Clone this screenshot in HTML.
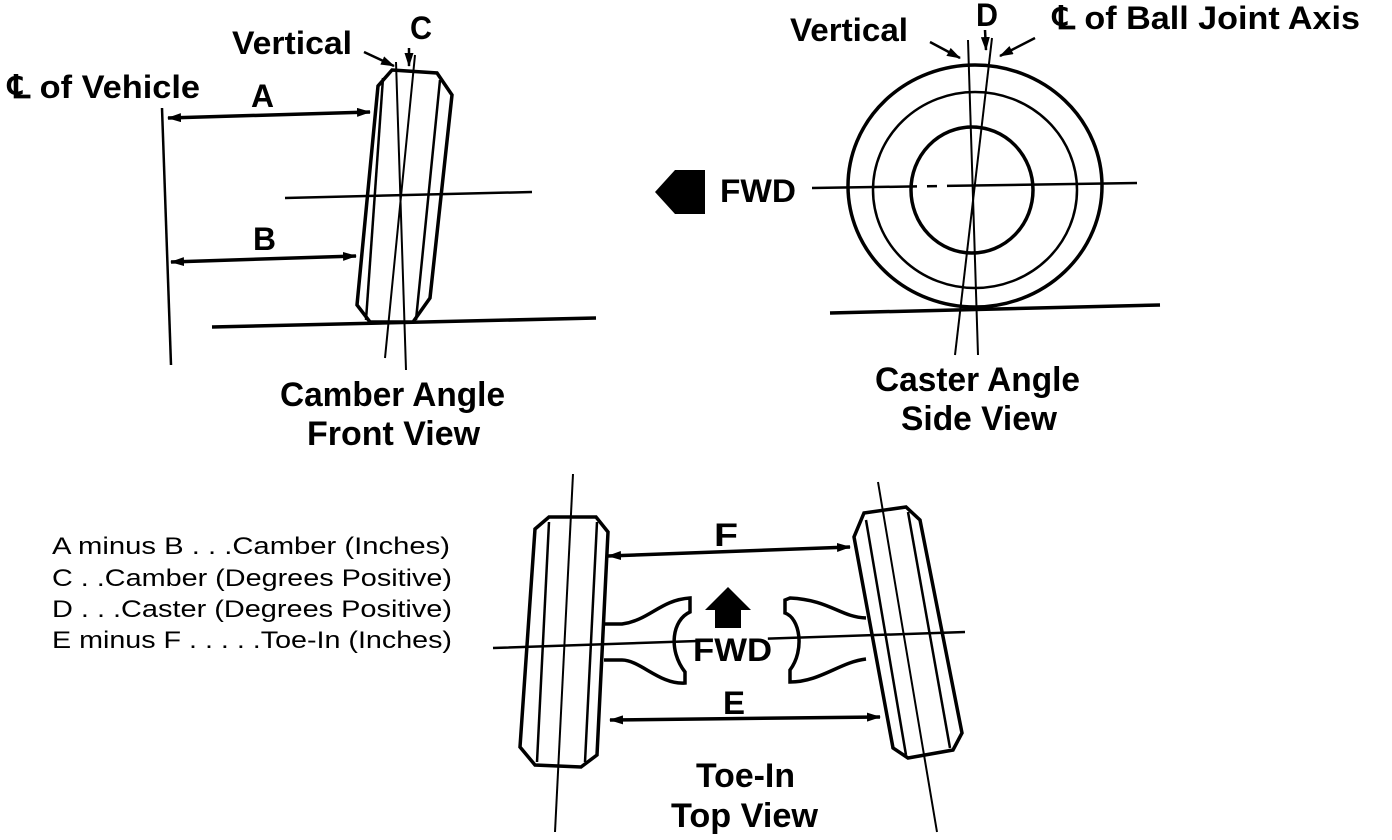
<!DOCTYPE html>
<html><head><style>
html,body{margin:0;padding:0;background:#fff}
svg{display:block}
.b{font-family:"Liberation Sans",sans-serif;font-weight:bold;fill:#000}
.r{font-family:"Liberation Sans",sans-serif;fill:#000;font-size:24px}
</style></head><body>
<svg width="1392" height="840" viewBox="0 0 1392 840" xmlns="http://www.w3.org/2000/svg">
<defs>
<marker id="ah" markerWidth="14" markerHeight="9" refX="13" refY="4.5" orient="auto" markerUnits="userSpaceOnUse">
<path d="M0,0 L14,4.5 L0,9 Z" fill="#000"/></marker>
<marker id="at" markerWidth="14" markerHeight="9" refX="1" refY="4.5" orient="auto" markerUnits="userSpaceOnUse">
<path d="M14,0 L0,4.5 L14,9 Z" fill="#000"/></marker>
</defs>
<g stroke="#000" fill="none">
<line x1="162" y1="108" x2="171" y2="365" stroke-width="2.5"/>
<line x1="168" y1="118" x2="370" y2="112" stroke-width="3.5" marker-start="url(#at)" marker-end="url(#ah)"/>
<line x1="171" y1="262" x2="356" y2="256" stroke-width="3.5" marker-start="url(#at)" marker-end="url(#ah)"/>
<line x1="285" y1="198" x2="532" y2="192" stroke-width="2.5"/>
<line x1="212" y1="327" x2="596" y2="318" stroke-width="3.5"/>
<path d="M392,70 L437,73 L452,95 L430,298 L413,322 L370,322 L357,305 L378,86 Z" stroke-width="3.5"/>
<line x1="383" y1="78" x2="366" y2="320" stroke-width="2.5"/>
<line x1="440" y1="80" x2="416" y2="320" stroke-width="2.5"/>
<line x1="396" y1="62" x2="406" y2="370" stroke-width="2"/>
<line x1="415" y1="55" x2="385" y2="358" stroke-width="2"/>
<line x1="364" y1="52" x2="394" y2="66" stroke-width="2.5" marker-end="url(#ah)"/>
<line x1="409" y1="48" x2="409" y2="66" stroke-width="2.5" marker-end="url(#ah)"/>
<ellipse cx="975" cy="186" rx="127" ry="121" stroke-width="3.5"/>
<ellipse cx="975" cy="190" rx="102" ry="98" stroke-width="2.5"/>
<ellipse cx="972" cy="190" rx="61" ry="63" stroke-width="3.5"/>
<line x1="812" y1="188" x2="1137" y2="183" stroke-width="2.5" stroke-dasharray="105,10,10,10,300"/>
<line x1="830" y1="313" x2="1160" y2="305" stroke-width="3.5"/>
<line x1="968" y1="40" x2="978" y2="355" stroke-width="2"/>
<line x1="992" y1="38" x2="955" y2="355" stroke-width="2"/>
<line x1="930" y1="42" x2="960" y2="58" stroke-width="2.5" marker-end="url(#ah)"/>
<line x1="1035" y1="38" x2="1000" y2="56" stroke-width="2.5" marker-end="url(#ah)"/>
<line x1="985" y1="30" x2="986" y2="50" stroke-width="2.5" marker-end="url(#ah)"/>
<path d="M549,517 L596,517 L608,532 L597,755 L581,767 L535,765 L520,747 L535,529 Z" stroke-width="3.5"/>
<line x1="549" y1="522" x2="537" y2="762" stroke-width="2.5"/>
<line x1="597" y1="522" x2="585" y2="762" stroke-width="2.5"/>
<line x1="573" y1="474" x2="555" y2="832" stroke-width="2"/>
<path d="M864,513 L906,507 L920,520 L962,733 L953,750 L908,758 L893,748 L854,537 Z" stroke-width="3.5"/>
<line x1="866" y1="520" x2="906" y2="755" stroke-width="2.5"/>
<line x1="908" y1="512" x2="950" y2="748" stroke-width="2.5"/>
<line x1="878" y1="482" x2="937" y2="832" stroke-width="2"/>
<line x1="493" y1="648" x2="965" y2="632" stroke-width="2.5" stroke-dasharray="205,70,400"/>
<line x1="608" y1="556" x2="850" y2="547" stroke-width="3.5" marker-start="url(#at)" marker-end="url(#ah)"/>
<line x1="610" y1="720" x2="880" y2="717" stroke-width="3.5" marker-start="url(#at)" marker-end="url(#ah)"/>
<path d="M604,624 L622,624 C650,620 660,600 690,598 L690,612 C672,620 668,650 685,672 L685,683 C660,685 640,660 622,660 L604,660" stroke-width="3.5"/>
<path d="M866,618 C840,617 830,600 790,598 L785,600 L785,613 C800,618 805,650 790,670 L790,682 C820,682 840,662 866,659" stroke-width="3.5"/>
</g>
<path d="M655,192 L675,170 L705,170 L705,214 L675,214 Z" fill="#000"/>
<path d="M705,610 L728,587 L751,610 L741,610 L741,628 L715,628 L715,610 Z" fill="#000"/>
<text class="b" x="232" y="54" font-size="32" textLength="120" lengthAdjust="spacingAndGlyphs">Vertical</text>
<text class="b" x="410" y="39" font-size="32" textLength="22" lengthAdjust="spacingAndGlyphs">C</text>
<text class="b" x="8" y="98" font-size="32" textLength="192" lengthAdjust="spacingAndGlyphs">℄ of Vehicle</text>
<text class="b" x="251" y="107" font-size="32" textLength="23" lengthAdjust="spacingAndGlyphs">A</text>
<text class="b" x="253" y="250" font-size="32" textLength="23" lengthAdjust="spacingAndGlyphs">B</text>
<text class="b" x="280" y="406" font-size="34" textLength="225" lengthAdjust="spacingAndGlyphs">Camber Angle</text>
<text class="b" x="307" y="445" font-size="34" textLength="173" lengthAdjust="spacingAndGlyphs">Front View</text>
<text class="b" x="790" y="41" font-size="32" textLength="118" lengthAdjust="spacingAndGlyphs">Vertical</text>
<text class="b" x="976" y="26" font-size="32" textLength="22" lengthAdjust="spacingAndGlyphs">D</text>
<text class="b" x="1053" y="29" font-size="32" textLength="307" lengthAdjust="spacingAndGlyphs">℄ of Ball Joint Axis</text>
<text class="b" x="720" y="202" font-size="32" textLength="76" lengthAdjust="spacingAndGlyphs">FWD</text>
<text class="b" x="875" y="391" font-size="34" textLength="205" lengthAdjust="spacingAndGlyphs">Caster Angle</text>
<text class="b" x="901" y="430" font-size="34" textLength="156" lengthAdjust="spacingAndGlyphs">Side View</text>
<text class="b" x="714" y="546" font-size="32" textLength="24" lengthAdjust="spacingAndGlyphs">F</text>
<text class="b" x="693" y="661" font-size="32" textLength="79" lengthAdjust="spacingAndGlyphs">FWD</text>
<text class="b" x="723" y="714" font-size="32" textLength="22" lengthAdjust="spacingAndGlyphs">E</text>
<text class="b" x="696" y="787" font-size="34" textLength="99" lengthAdjust="spacingAndGlyphs">Toe-In</text>
<text class="b" x="671" y="827" font-size="34" textLength="147" lengthAdjust="spacingAndGlyphs">Top View</text>
<text class="r" x="52" y="554" textLength="398" lengthAdjust="spacingAndGlyphs">A minus B . . .Camber (Inches)</text>
<text class="r" x="52" y="586" textLength="400" lengthAdjust="spacingAndGlyphs">C . .Camber (Degrees Positive)</text>
<text class="r" x="52" y="617" textLength="400" lengthAdjust="spacingAndGlyphs">D . . .Caster (Degrees Positive)</text>
<text class="r" x="52" y="648" textLength="400" lengthAdjust="spacingAndGlyphs">E minus F . . . . .Toe-In (Inches)</text>
</svg>
</body></html>
